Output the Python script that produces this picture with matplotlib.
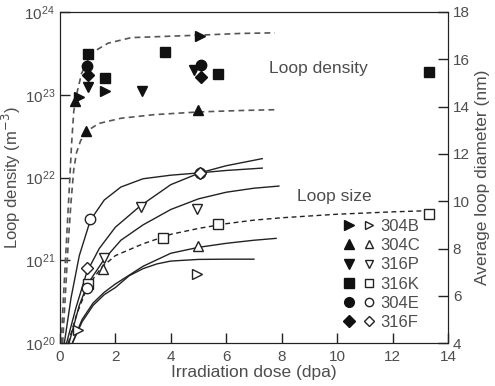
import matplotlib
matplotlib.use("Agg")
import matplotlib.pyplot as plt
from matplotlib.legend_handler import HandlerTuple

plt.rcParams['font.family'] = ['Liberation Sans', 'DejaVu Sans']

# loop density (filled markers, left axis, m^-3)
dens = {
    '304B': ([0.68, 1.62, 5.05], [9.3e22, 1.1e23, 5.1e23]),
    '304C': ([0.55, 0.93, 4.98], [8.3e22, 3.7e22, 6.6e22]),
    '316P': ([1.02, 2.97, 4.83], [1.25e23, 1.1e23, 2.0e23]),
    '316K': ([1.02, 1.62, 3.78, 5.72, 13.33], [3.1e23, 1.6e23, 3.3e23, 1.8e23, 1.9e23]),
    '304E': ([0.98, 5.1], [2.2e23, 2.3e23]),
    '316F': ([1.0, 5.1], [1.75e23, 1.65e23]),
}
# loop size (open markers, right axis, nm)
size = {
    '304B': ([0.64, 4.93], [4.55, 6.92]),
    '304C': ([1.55, 4.98], [7.15, 8.1]),
    '316P': ([1.6, 2.94, 4.95], [7.58, 9.77, 9.66]),
    '316K': ([1.02, 3.72, 5.72, 13.33], [6.52, 8.43, 9.02, 9.44]),
    '304E': ([0.97, 1.1, 5.05], [6.34, 9.23, 11.2]),
    '316F': ([0.97, 5.05], [7.18, 11.2]),
}
markers = {'304B': '>', '304C': '^', '316P': 'v', '316K': 's', '304E': 'o', '316F': 'D'}

# density fit curves
dens_hi_x = [0.05, 0.12, 0.2, 0.28, 0.36, 0.42, 0.5, 0.6, 0.78, 1.14, 1.74, 2.58, 4.0, 5.05, 6.5, 7.75]
dens_hi_y = [1e20, 3.2e20, 1e21, 3.2e21, 1e22, 2.5e22, 6.3e22, 1e23, 1.8e23, 3.2e23, 4.2e23,
             4.9e23, 5.1e23, 5.25e23, 5.5e23, 5.6e23]
dens_lo_x = [0.1, 0.2, 0.3, 0.4, 0.5, 0.6, 0.75, 0.95, 1.4, 2.2, 3.4, 5.0, 6.5, 7.75]
dens_lo_y = [1e20, 4e20, 1.6e21, 5e21, 1.25e22, 2e22, 2.8e22, 3.6e22, 4.5e22, 5.2e22,
             5.75e22, 6.2e22, 6.45e22, 6.6e22]

# loop size fit curves
size_curves = [
    ([0.16, 0.4, 0.7, 1.1, 1.6, 2.2, 3.0, 4.0, 5.05, 6.0, 7.3],
     [4.0, 5.9, 7.7, 9.2, 10.05, 10.6, 10.95, 11.1, 11.2, 11.3, 11.4], '-'),
    ([0.24, 0.58, 0.97, 1.42, 2.0, 2.9, 4.0, 5.05, 6.0, 7.3],
     [4.0, 5.5, 7.0, 8.0, 8.9, 9.8, 10.7, 11.2, 11.5, 11.8], '-'),
    ([0.33, 0.7, 1.0, 1.6, 2.2, 3.0, 4.0, 5.0, 6.0, 7.0, 7.9],
     [4.0, 5.6, 6.5, 7.55, 8.35, 9.0, 9.65, 10.1, 10.38, 10.55, 10.64], '-'),
    ([0.3, 0.6, 1.0, 1.5, 2.0, 3.0, 4.0, 5.0, 6.0, 7.0, 8.0, 10.0, 12.0, 13.3],
     [4.0, 5.2, 6.4, 7.2, 7.7, 8.2, 8.6, 8.85, 9.05, 9.2, 9.3, 9.45, 9.55, 9.6], '--'),
    ([0.45, 0.8, 1.2, 1.6, 2.0, 3.0, 4.0, 5.0, 6.0, 7.0, 7.8],
     [4.0, 5.0, 5.7, 6.15, 6.5, 7.25, 7.8, 8.05, 8.22, 8.35, 8.43], '-'),
    ([0.45, 0.8, 1.2, 1.6, 2.0, 2.5, 3.0, 3.5, 4.0, 5.0, 6.0, 7.0],
     [4.0, 4.9, 5.6, 6.05, 6.35, 6.85, 7.15, 7.35, 7.47, 7.54, 7.55, 7.55], '-'),
]

txt = '#4d4d4d'
fig = plt.figure(figsize=(4.95, 3.86), dpi=100)
ax = fig.add_axes([0.121, 0.111, 0.784, 0.858])
ax2 = ax.twinx()

ax.plot(dens_hi_x, dens_hi_y, ls=(0, (3.5, 2.5)), color='#555555', lw=1.2)
ax.plot(dens_lo_x, dens_lo_y, ls=(0, (3.5, 2.5)), color='#555555', lw=1.2)
for k, m in markers.items():
    xs, ys = dens[k]
    ax.plot(xs, ys, ls='none', marker=m, ms=7.5 if m != 'D' else 6.5, color='#111111', zorder=3)

for xs, ys, ls in size_curves:
    ax2.plot(xs, ys, ls=ls if ls == '-' else (0, (3.5, 2.5)), color='#222222', lw=1.0)
handles = []
for k, m in markers.items():
    xs, ys = size[k]
    ax2.plot(xs, ys, ls='none', marker=m, ms=7.5 if m != 'D' else 6.5, mfc='white',
             mec='#222222', mew=1.0, zorder=3)
    h1, = ax.plot([], [], ls='none', marker=m, ms=7 if m != 'D' else 6, color='#111111')
    h2, = ax.plot([], [], ls='none', marker=m, ms=6 if m != 'D' else 5, mfc='white',
                  mec='#222222', mew=1.0)
    handles.append((h1, h2))

ax.set_yscale('log')
ax.set_ylim(1e20, 1e24)
ax.set_xlim(0, 14)
ax2.set_ylim(4, 18)
ax.set_xticks(range(0, 15, 2))
ax2.set_yticks(range(4, 19, 2))
ax.minorticks_off()

for a in (ax, ax2):
    a.tick_params(direction='in', length=7, width=1, colors='#222222', labelcolor=txt,
                  labelsize=11)
    for s in a.spines.values():
        s.set_color('#222222')
ax.tick_params(axis='x', pad=5)
for lab in ax2.get_yticklabels():
    lab.set_verticalalignment('center_baseline')

ax.set_xlabel('Irradiation dose (dpa)', fontsize=12.5, color=txt, labelpad=1)
ax.set_ylabel('Loop density (m$^{-3}$)', fontsize=12, color=txt, labelpad=1)
ax2.set_ylabel('Average loop diameter (nm)', fontsize=12.5, color=txt, labelpad=4)

ax.text(7.55, 2.1e23, 'Loop density', fontsize=12.5, color=txt, va='center')
ax2.text(8.55, 10.2, 'Loop size', fontsize=12.5, color=txt, va='center')

leg = ax2.legend(handles, list(markers.keys()), handler_map={tuple: HandlerTuple(ndivide=None, pad=0.4)},
                 loc='lower right', bbox_to_anchor=(0.945, 0.02), frameon=False, fontsize=12,
                 handlelength=2.0, handletextpad=0.3, labelspacing=0.25, borderaxespad=0)
for t in leg.get_texts():
    t.set_color(txt)

fig.savefig('out.png', dpi=100)
